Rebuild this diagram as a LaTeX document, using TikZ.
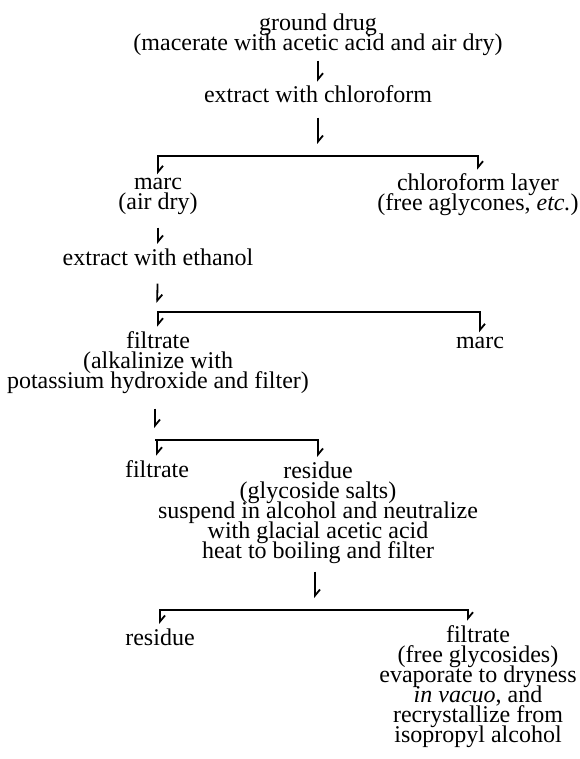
\documentclass[tikz,border=0pt]{standalone}
\usepackage{fontspec}
\setmainfont{Liberation Serif}
\usetikzlibrary{arrows.meta}

\newcommand\stagefont{\fontsize{12}{10}\selectfont\lineskiplimit=-20pt\relax}

\tikzset{
  stage/.style={align=center, anchor=base, inner sep=2pt, font=\stagefont},
  flow/.style={line width=0.9pt,
    -{Straight Barb[left, length=3pt, width=5pt]}}
}

\begin{document}
\begin{tikzpicture}[x=0.5pt, y=-0.5pt]
  \useasboundingbox (0,0) rectangle (579,759);

  % each node sits on the baseline of its last line
  \node[stage] (drug) at (318,51) {ground drug\\(macerate with acetic acid and air dry)};
  \node[stage] (chcl) at (318,103) {extract with chloroform};
  \coordinate (forkA) at (318,156);
  \node[stage] (marcA) at (158,210) {marc\\(air dry)};
  \node[stage] (layer) at (478,211) {chloroform layer\\(free aglycones, \textit{etc.})};

  \node[stage] (etoh) at (158,265) {extract with ethanol};
  \coordinate (forkB) at (157,312);
  \node[stage] (filtA) at (158,388) {filtrate\\(alkalinize with\\potassium hydroxide and filter)};
  \node[stage] (marcB) at (480,348) {marc};

  \coordinate (forkC) at (155,440);
  \node[stage] (filtB) at (157,477) {filtrate};
  \node[stage] (resA) at (318,558) {residue\\(glycoside salts)\\suspend in alcohol and neutralize\\with glacial acetic acid\\heat to boiling and filter};

  \coordinate (forkD) at (315,610);
  \node[stage] (resB) at (160,645) {residue};
  \node[stage] (filtC) at (478,742) {filtrate\\(free glycosides)\\evaporate to dryness\\\textit{in vacuo}, and\\recrystallize from\\isopropyl alcohol};

  % straight steps, then the forks
  \draw[flow] (drug) -- (chcl);
  \draw[flow, shorten <=5pt, shorten >=6pt] (chcl) -- (forkA);
  \draw[flow] (forkA) -| (marcA);
  \draw[flow] (forkA) -| (layer);

  \draw[flow, shorten <=4pt] (marcA) -- (etoh);
  \draw[flow, shorten <=7pt, shorten >=4.5pt] (etoh) -- (forkB);
  \draw[flow] (forkB) -| (filtA);
  \draw[flow] (forkB) -| (marcB);

  \draw[flow, shorten <=5.5pt, shorten >=6pt] (filtA.south -| forkC) -- (forkC);
  \draw[flow] (forkC) -| (filtB);
  \draw[flow] (forkC) -| (resA);

  \draw[flow, shorten <=2pt, shorten >=6pt] (resA.south -| forkD) -- (forkD);
  \draw[flow] (forkD) -| (resB);
  \draw[flow] (forkD) -| ([xshift=-5pt]filtC.north);
\end{tikzpicture}
\end{document}
